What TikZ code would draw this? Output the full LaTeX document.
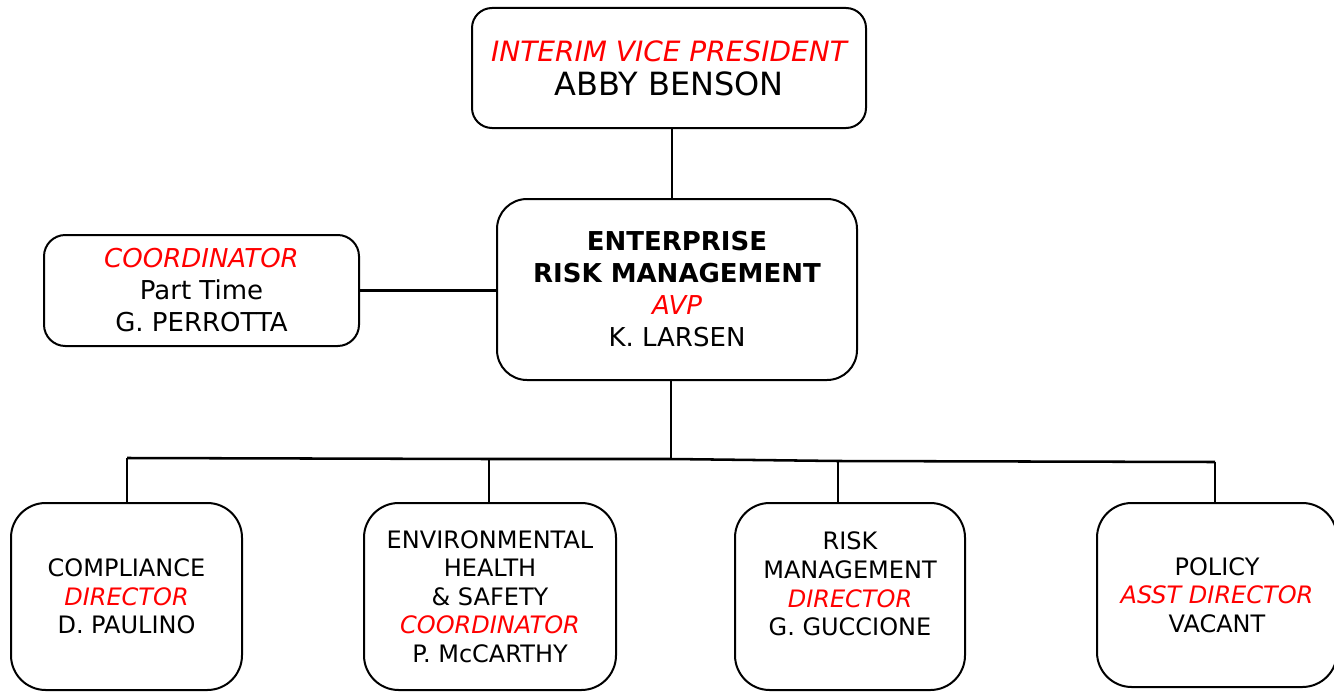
\documentclass[tikz,border=0pt]{standalone}
\usepackage{fontspec}
\setmainfont{DejaVu Sans}
\definecolor{rolered}{RGB}{255,0,0}
\newcommand{\role}[1]{{\color{rolered}\itshape #1}}
\tikzset{
  box/.style={draw=black, line width=1.5pt, fill=white, rectangle, inner sep=0pt, align=center},
  topfont/.style={font=\fontsize{24}{25.5}\selectfont},
  midfont/.style={font=\fontsize{19.5}{24}\selectfont},
  lowfont/.style={font=\fontsize{18}{21.4}\selectfont},
  conn/.style={draw=black, line width=1.9pt},
}
\begin{document}
\begin{tikzpicture}[x=0.75pt, y=-0.75pt]
\useasboundingbox (0,0) rectangle (1334,692);
% boxes
\node[box, topfont, minimum width=295.5pt, minimum height=90pt, rounded corners=15pt] (top) at (669,68)
  {\role{\fontsize{21}{25.5}\selectfont INTERIM VICE PRESIDENT}\\ABBY BENSON};
\node[box, midfont, minimum width=270pt, minimum height=135.75pt, rounded corners=22.5pt] (erm) at (677,289.5)
  {\textbf{ENTERPRISE}\\\textbf{RISK MANAGEMENT}\\\role{AVP}\\K. LARSEN};
\node[box, midfont, minimum width=236.25pt, minimum height=83.25pt, rounded corners=16pt] (coord) at (201.5,290.5)
  {\role{COORDINATOR}\\Part Time\\G. PERROTTA};
\node[box, lowfont, minimum width=173.25pt, minimum height=140.25pt, rounded corners=26pt] (comp) at (126.5,596.5)
  {COMPLIANCE\\\role{DIRECTOR}\\D. PAULINO};
\node[box, lowfont, minimum width=189pt, minimum height=140.25pt, rounded corners=26pt] (ehs) at (490,596.5)
  {ENVIRONMENTAL\\HEALTH\\\& SAFETY\\\role{COORDINATOR}\\P. McCARTHY};
\node[box, lowfont, minimum width=172.5pt, minimum height=140.25pt, rounded corners=26pt] (risk) at (850,596.5) {};
\node[lowfont, align=center, inner sep=0pt] (riskt) at (850,584)
  {RISK\\MANAGEMENT\\\role{DIRECTOR}\\G. GUCCIONE};
\node[box, lowfont, minimum width=180pt, minimum height=138pt, rounded corners=26pt] (pol) at (1217,595)
  {POLICY\\\role{ASST DIRECTOR}\\VACANT};
% connector helpers
\coordinate (tc) at (672,0);
\coordinate (bus) at (671,459);
\coordinate (b1) at (127,458);
\coordinate (b2) at (489,459);
\coordinate (b3) at (838,461);
\coordinate (b4) at (1215,462);
% connectors
\draw[conn] (tc |- top.south) -- (tc |- erm.north);
\draw[conn] (coord.east) -- (coord.east -| erm.west);
\draw[conn] (bus |- erm.south) -- (bus);
\draw[conn] (b1) -- (b2) -- (bus) -- (b3) -- (b4);
\draw[conn] (b1) -- (b1 |- comp.north);
\draw[conn] (b2) -- (b2 |- ehs.north);
\draw[conn] (b3) -- (b3 |- risk.north);
\draw[conn] (b4) -- (b4 |- pol.north);
\end{tikzpicture}
\end{document}
